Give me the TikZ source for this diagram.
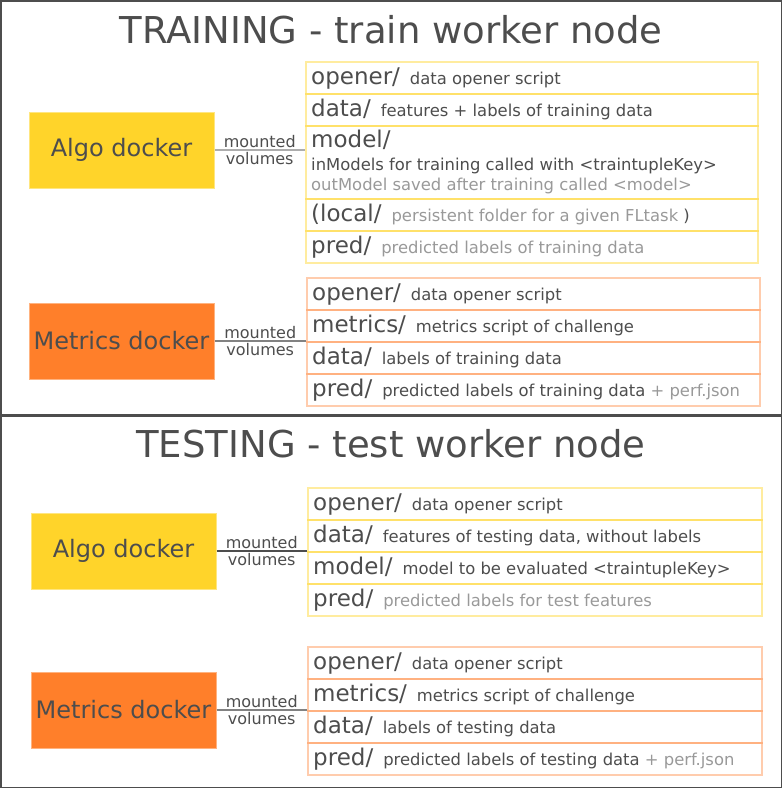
\documentclass[tikz,border=0pt]{standalone}
\usepackage{fontspec}
\setmainfont{DejaVu Sans}
\definecolor{framegray}{HTML}{4D4D4D}
\definecolor{txtdark}{HTML}{4D4D4D}
\definecolor{txtlight}{HTML}{999999}
\definecolor{algofill}{HTML}{FFD42A}
\definecolor{algoline}{HTML}{FFE680}
\definecolor{metrfill}{HTML}{FF7F2A}
\definecolor{metrline}{HTML}{FFB380}
\definecolor{algorow}{HTML}{FFD42A}
\definecolor{metrrow}{HTML}{FF8F4A}
\newcommand{\dname}[1]{{\fontsize{23}{27}\selectfont #1}\hspace{10pt}}
\begin{document}
\begin{tikzpicture}[x=1pt,y=-1pt,
  frame/.style={draw=framegray,line width=1.5pt},
  ttl/.style={anchor=base,inner sep=0,text=txtdark,font=\fontsize{37}{44}\selectfont},
  dock/.style={minimum width=185pt,minimum height=76pt,inner sep=0,text=txtdark,font=\fontsize{24}{29}\selectfont,line width=1pt},
  algo/.style={dock,fill=algofill,draw=algoline},
  metr/.style={dock,fill=metrfill,draw=metrline},
  row/.style={anchor=north west,minimum width=453pt,minimum height=32pt,inner sep=0,line width=1.6pt,draw opacity=0.45},
  arow/.style={row,draw=algorow},
  mrow/.style={row,draw=metrrow},
  lbl/.style={anchor=base west,inner sep=0,text=txtdark,font=\fontsize{16.4}{20}\selectfont},
  vol/.style={inner sep=1.5pt,text=txtdark,font=\fontsize{16}{18}\selectfont},
  conn/.style={line width=1.5pt}]
\useasboundingbox (0,0) rectangle (782,788);
\draw[frame] (0.75,0.75) rectangle (781.25,414.25);
\draw[frame] (0.75,415.75) rectangle (781.25,787.25);

% training
\node[ttl] (ttlA) at (391,43) {TRAINING - train worker node};
\node[algo] (algoA) at (121.5,150) {Algo docker};
\node[metr] (metrA) at (121.5,341) {Metrics docker};

\foreach \n/\ytop/\txt in {1/61/{\dname{opener/}data opener script},
    2/93/{\dname{data/}features + labels of training data},
    4/198/{\dname{(local/}\textcolor{txtlight}{persistent folder for a given FLtask} )},
    5/230/{\dname{pred/}\textcolor{txtlight}{predicted labels of training data}}}
  {\node[arow,minimum width=452pt] (ta\n) at (305,\ytop) {};
   \node[lbl] (tal\n) at ([shift={(6,23.6)}]ta\n.north west) {\txt};}
\node[arow,minimum width=452pt,minimum height=73pt] (ta3) at (305,125) {};
\node[lbl] (tal3) at ([shift={(6,22)}]ta3.north west) {\dname{model/}};
\node[lbl] (tal3b) at ([shift={(6,45)}]ta3.north west) {inModels for training called with <traintupleKey>};
\node[lbl,text=txtlight] (tal3c) at ([shift={(6,65)}]ta3.north west) {outModel saved after training called <model>};

\foreach \n/\ytop/\txt in {1/277/{\dname{opener/}data opener script},
    2/309/{\dname{metrics/}metrics script of challenge},
    3/341/{\dname{data/}labels of training data},
    4/373/{\dname{pred/}predicted labels of training data \textcolor{txtlight}{+ perf.json}}}
  {\node[mrow] (tm\n) at (306,\ytop) {};
   \node[lbl] (tml\n) at ([shift={(6,23.6)}]tm\n.north west) {\txt};}

\draw[conn,draw=txtlight!80] (algoA.east) -- (algoA.east -| ta3.west)
  node[vol,midway,above] {mounted} node[vol,midway,below] {volumes};
\draw[conn,draw=txtdark!70] (metrA.east) -- (metrA.east -| tm3.west)
  node[vol,midway,above] {mounted} node[vol,midway,below] {volumes};

% testing
\node[ttl] (ttlB) at (391,457) {TESTING - test worker node};
\node[algo] (algoB) at (123.5,551) {Algo docker};
\node[metr] (metrB) at (123.5,710) {Metrics docker};

\foreach \n/\ytop/\txt in {1/487/{\dname{opener/}data opener script},
    2/519/{\dname{data/}features of testing data, without labels},
    3/551/{\dname{model/}model to be evaluated <traintupleKey>},
    4/583/{\dname{pred/}\textcolor{txtlight}{predicted labels for test features}}}
  {\node[arow,minimum width=454pt] (sa\n) at (307,\ytop) {};
   \node[lbl] (sal\n) at ([shift={(6,23.6)}]sa\n.north west) {\txt};}

\foreach \n/\ytop/\txt in {1/646/{\dname{opener/}data opener script},
    2/678/{\dname{metrics/}metrics script of challenge},
    3/710/{\dname{data/}labels of testing data},
    4/742/{\dname{pred/}predicted labels of testing data \textcolor{txtlight}{+ perf.json}}}
  {\node[mrow,minimum width=454pt] (sm\n) at (307,\ytop) {};
   \node[lbl] (sml\n) at ([shift={(6,23.6)}]sm\n.north west) {\txt};}

\draw[conn,draw=txtdark] (algoB.east) -- (algoB.east -| sa3.west)
  node[vol,midway,above] {mounted} node[vol,midway,below] {volumes};
\draw[conn,draw=txtdark!70] (metrB.east) -- (metrB.east -| sm3.west)
  node[vol,midway,above] {mounted} node[vol,midway,below] {volumes};
\end{tikzpicture}
\end{document}
